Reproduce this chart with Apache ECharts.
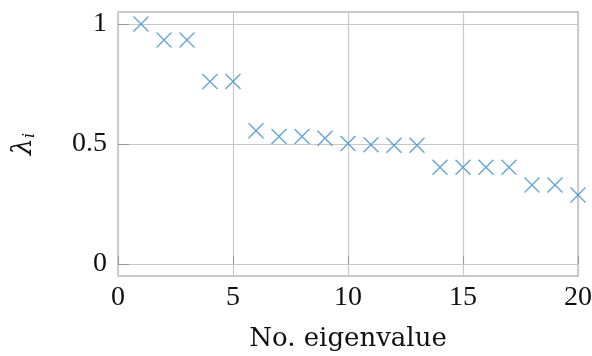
<!DOCTYPE html>
<html><head><meta charset="utf-8">
<script src="https://cdn.jsdelivr.net/npm/echarts@6/dist/echarts.min.js"></script>
<style>html,body{margin:0;padding:0;background:#fff}#c{width:592px;height:356px}</style>
</head><body><div id="c"></div>
<script>
const xIndex = [1,2,3,4,5,6,7,8,9,10,11,12,13,14,15,16,17,18,19,20];
const lambdaValues = [1.0,0.933,0.933,0.76,0.76,0.555,0.531,0.531,0.524,0.502,0.497,0.495,0.495,0.403,0.403,0.403,0.403,0.329,0.329,0.2875];
const yTicks = [0, 0.5, 1];
const xTicks = [0, 5, 10, 15, 20];

const tickFont = 'Liberation Serif';
const nameFont = 'DejaVu Serif';
const chart = echarts.init(document.getElementById('c'));
chart.setOption({
  animation: false,
  grid: {left: 118, right: 14, top: 12, bottom: 80, show: true, borderColor: '#b5b5b5', borderWidth: 1.3, outerBoundsMode: 'none', containLabel: false},
  graphic: [{
    type: 'text', left: 10, top: 133, rotation: Math.PI / 2,
    style: {
      text: '{a|λ}{b|i}',
      rich: {a: {fontFamily: nameFont, fontSize: 27, fontStyle: 'italic', fill: '#111'},
             b: {fontFamily: nameFont, fontSize: 16, fontStyle: 'italic', fill: '#111', padding: [12,0,0,0]}}
    }
  }],
  xAxis: {
    type: 'value', min: 0, max: 20, interval: 5,
    name: 'No. eigenvalue', nameLocation: 'middle', nameGap: 50,
    nameTextStyle: {fontFamily: nameFont, fontSize: 26, color: '#111'},
    axisLine: {show: false},
    axisTick: {show: true, inside: true, length: 8, lineStyle: {color: '#999'}},
    axisLabel: {fontFamily: tickFont, fontSize: 28, color: '#111', margin: 8},
    splitLine: {show: true, lineStyle: {color: '#c8c8c8', width: 1.2}}
  },
  yAxis: {
    type: 'value', min: -0.05, max: 1.05,
    axisLine: {show: false},
    axisTick: {show: true, inside: true, length: 11, customValues: yTicks, lineStyle: {color: '#999'}},
    axisLabel: {fontFamily: tickFont, fontSize: 28, color: '#111', margin: 11, customValues: yTicks,
      formatter: v => String(Math.round(v*10)/10)},
    splitLine: {show: true, lineStyle: {color: '#c8c8c8', width: 1.2}}
  },
  series: [{
    type: 'scatter',
    data: xIndex.map((x, i) => [x, lambdaValues[i]]),
    symbol: 'path://M0,0L10,10M10,0L0,10',
    symbolSize: 15,
    itemStyle: {color: 'rgba(0,0,0,0)', borderColor: '#3b8fca', borderWidth: 1.4}
  }]
});
</script></body></html>
